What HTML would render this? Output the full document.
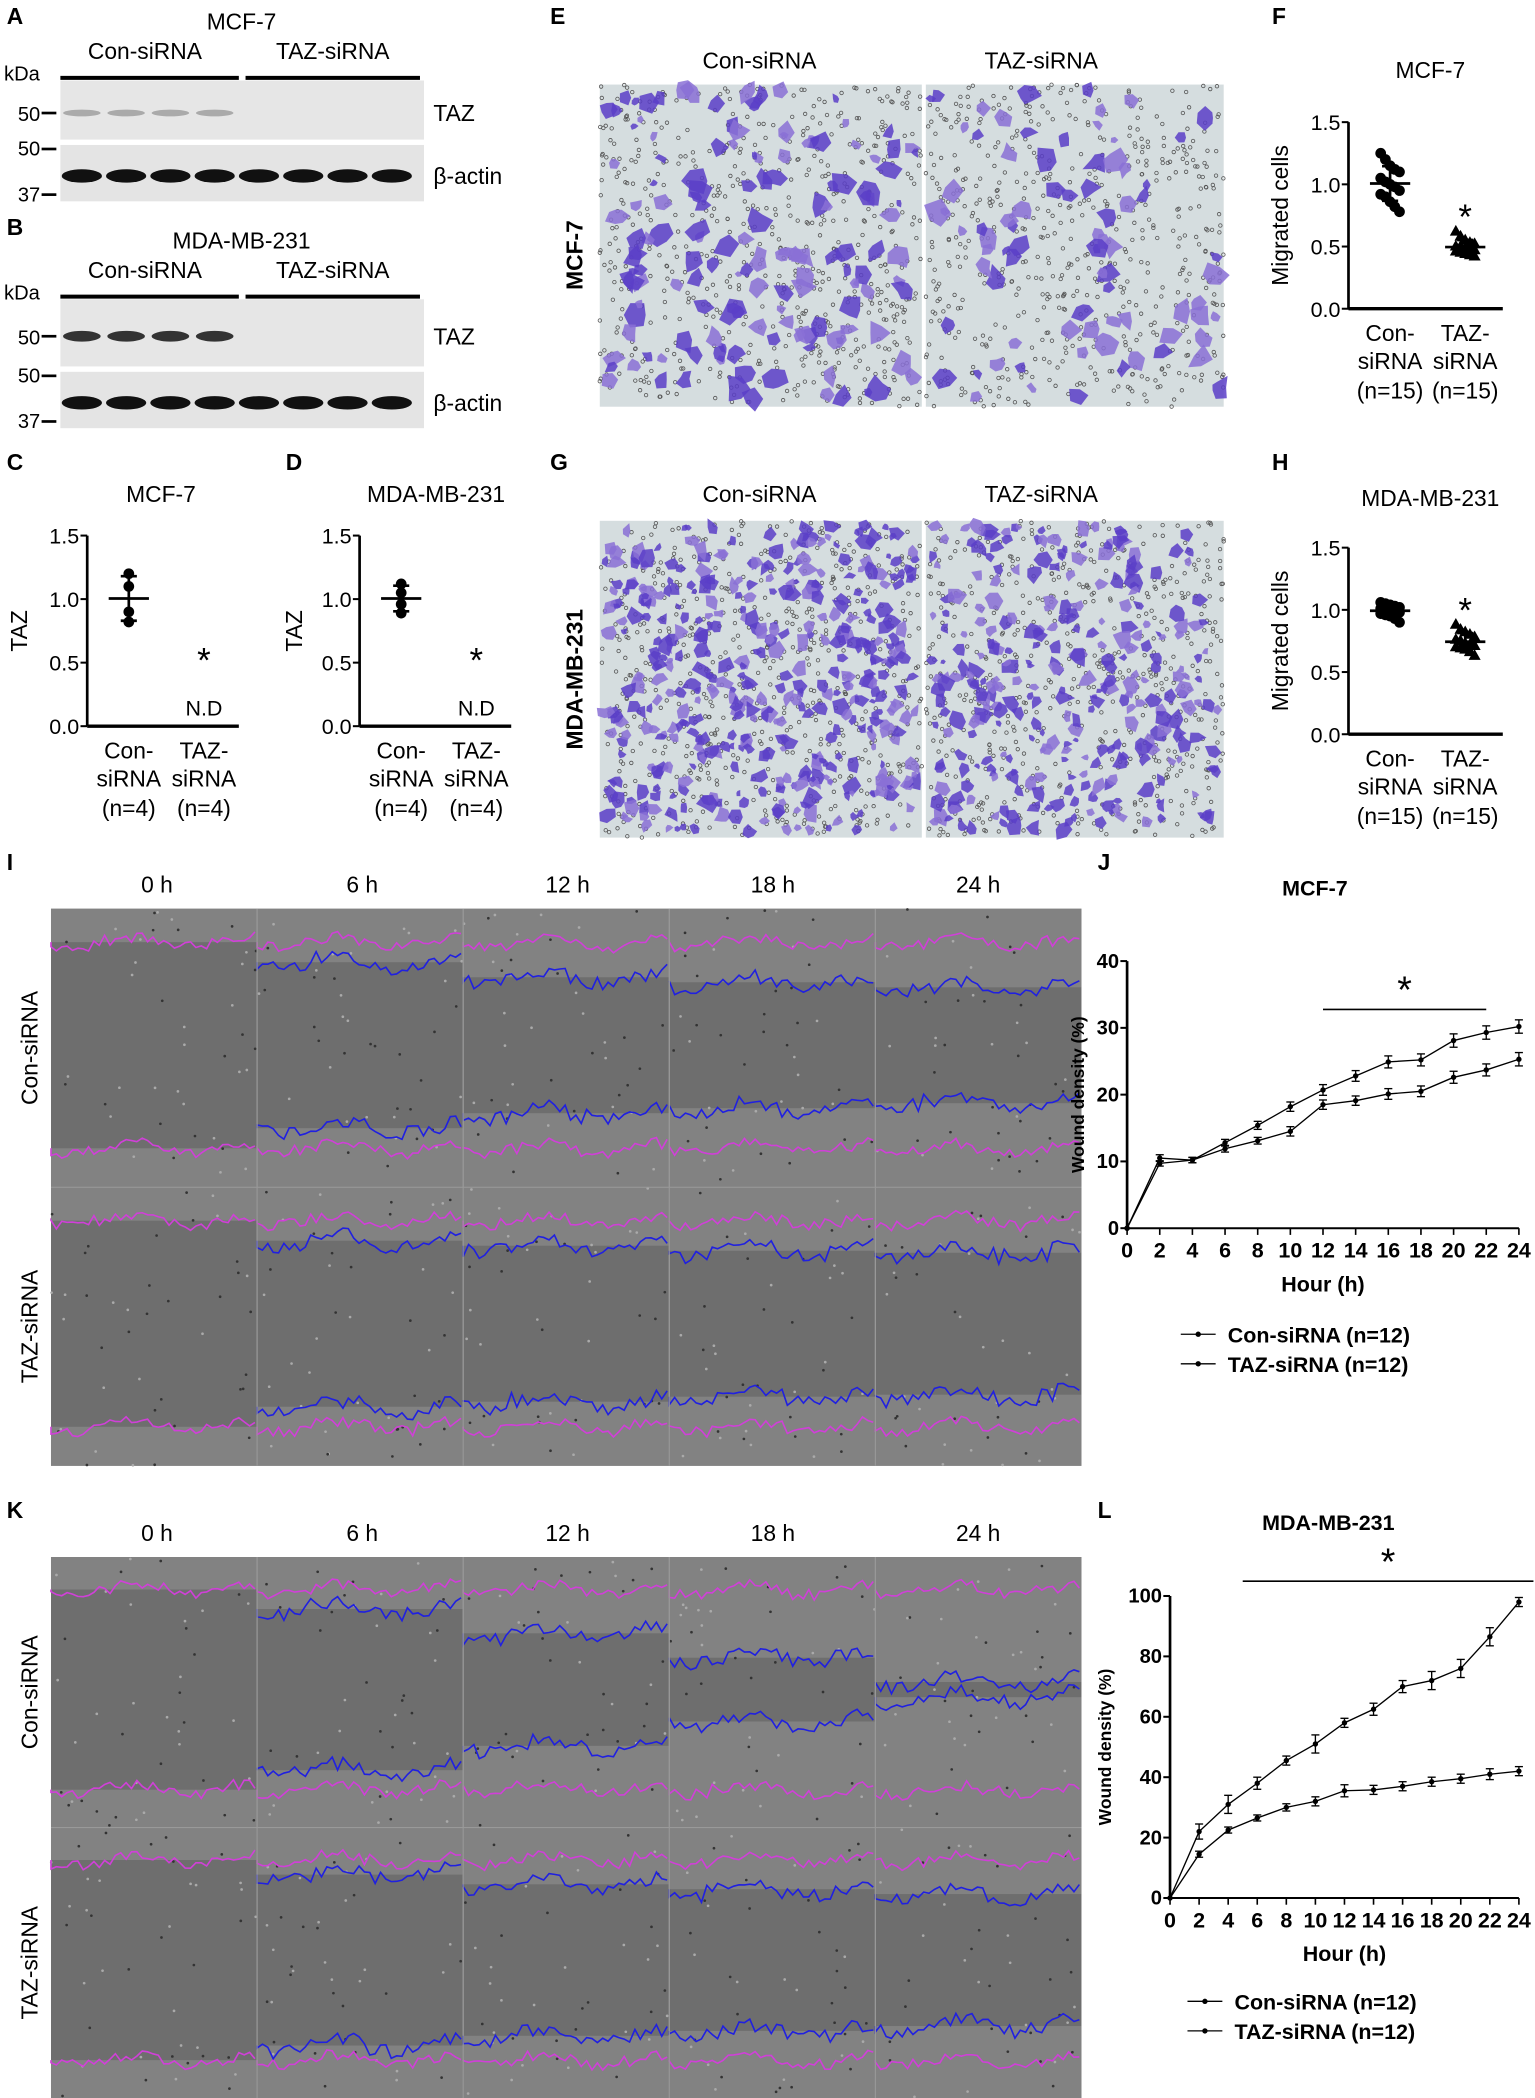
<!DOCTYPE html>
<html><head><meta charset="utf-8"><style>
html,body{margin:0;padding:0;background:#fff;}
svg{display:block;font-family:"Liberation Sans",Arial,sans-serif;}
</style></head><body>
<svg id="fig" width="1535" height="2098" viewBox="0 0 1144 1563" preserveAspectRatio="none" xmlns="http://www.w3.org/2000/svg"></svg>
<script>
// ---- chart data ----
const hours = [0,2,4,6,8,10,12,14,16,18,20,22,24];
const hourTicks = [0,2,4,6,8,10,12,14,16,18,20,22,24];
const jCon = [0,10.5,10.2,12.8,15.4,18.2,20.7,22.8,24.9,25.2,28.1,29.3,30.2];
const jConErr = [0,0.5,0.4,0.5,0.6,0.7,0.8,0.8,0.9,0.9,1.0,1.0,1.0];
const jTaz = [0,9.7,10.2,11.9,13.1,14.5,18.5,19.1,20.1,20.5,22.6,23.7,25.3];
const jTazErr = [0,0.4,0.4,0.5,0.5,0.7,0.7,0.7,0.8,0.8,0.9,0.9,1.0];
const jYTicks = [0,10,20,30,40];
const lCon = [0,22,31,38,45.5,51,58,62.5,70,72,76,86.5,98];
const lConErr = [0,2.5,3,2,1.5,3,1.5,2,2,3,3,3,1.5];
const lTaz = [0,14.5,22.5,26.5,30,32,35.5,35.8,37,38.5,39.5,41,42];
const lTazErr = [0,1,1,1,1.2,1.5,2,1.5,1.5,1.5,1.5,1.8,1.5];
const lYTicks = [0,20,40,60,80,100];
const cCon = [1.2,1.1,0.9,0.82];
const dCon = [1.12,1.05,0.96,0.89];
const fCon = [1.25,1.2,1.15,1.12,1.1,1.05,1.02,1.0,0.98,0.95,0.92,0.9,0.86,0.82,0.78];
const fTaz = [0.62,0.58,0.55,0.53,0.52,0.5,0.5,0.49,0.48,0.47,0.46,0.45,0.44,0.43,0.42];
const hCon = [1.06,1.05,1.04,1.03,1.02,1.01,1.0,1.0,0.99,0.98,0.97,0.96,0.95,0.93,0.9];
const hTaz = [0.88,0.84,0.82,0.8,0.78,0.76,0.75,0.73,0.72,0.71,0.7,0.69,0.68,0.66,0.63];
const scatterTicks = [0,0.5,1.0,1.5];

const NS="http://www.w3.org/2000/svg";
const svg=document.getElementById('fig');
function mk(tag,attrs,name,parent){
  const el=document.createElementNS(NS,tag);
  for(const k in attrs) el.setAttribute(k,attrs[k]);
  
  
  (parent||svg).appendChild(el);return el;
}
function txt(x,y,s,size,name,opt){
  opt=opt||{};
  const a={x:x,y:y,'font-size':size,'text-anchor':opt.anchor||'middle',fill:'#000'};
  if(opt.bold)a['font-weight']='bold';
  if(opt.rot!==undefined)a.transform='rotate('+opt.rot+' '+x+' '+y+')';
  const t=mk('text',a,name,opt.parent);t.textContent=s;return t;
}
let seed=7;function rnd(){seed=(seed*16807)%2147483647;return seed/2147483647;}

// ---- panel letters ----
[['A',5,18],['B',5,175],['C',5,350],['D',213,350],['E',410,18],['F',948,18],['G',410,350],['H',948,350],['I',5,648],['J',818,648],['K',5,1131],['L',818,1131]].forEach(p=>{
  txt(p[1],p[2],p[0],17,'panel-label-'+p[0].toLowerCase(),{anchor:'start',bold:true});
});

// ---- western blots ----
function blot(y0,title,tazStrength,name){
  const g=mk('g',{},name);
  txt(180,y0+12,title,17,name+'-title',{parent:g});
  txt(108,y0+34,'Con-siRNA',17,name+'-con-label',{parent:g});
  txt(248,y0+34,'TAZ-siRNA',17,name+'-taz-label',{parent:g});
  txt(3,y0+50,'kDa',15,name+'-kda',{anchor:'start',parent:g});
  mk('line',{x1:45,y1:y0+48,x2:178,y2:y0+48,stroke:'#000','stroke-width':3},name+'-con-bar',g);
  mk('line',{x1:183,y1:y0+48,x2:313,y2:y0+48,stroke:'#000','stroke-width':3},name+'-taz-bar',g);
  const b1=y0+50, h1=tazStrength>0.5?50:44, b2=b1+h1+4, h2=42;
  mk('rect',{x:45,y:b1,width:271,height:h1,fill:'#e6e6e6'},name+'-taz-membrane',g);
  mk('rect',{x:45,y:b2,width:271,height:h2,fill:'#e4e4e4'},name+'-actin-membrane',g);
  const tb=b1+h1*0.55, ab=b2+h2*0.55;
  for(let i=0;i<8;i++){
    const cx=61+i*33;
    if(i<4) mk('ellipse',{cx:cx,cy:tb,rx:14,ry:tazStrength>0.5?4:2.5,fill:tazStrength>0.5?'#333':'#aaa'},name+'-taz-band',g);
    mk('ellipse',{cx:cx,cy:ab,rx:15,ry:5,fill:'#111'},name+'-actin-band',g);
  }
  txt(30,tb+6,'50',15,name+'-marker-50',{anchor:'end',parent:g});
  txt(30,b2+8,'50',15,name+'-marker-50b',{anchor:'end',parent:g});
  txt(30,b2+h2,'37',15,name+'-marker-37',{anchor:'end',parent:g});
  [tb,b2+3,b2+h2-5].forEach(yy=>mk('line',{x1:31,y1:yy,x2:42,y2:yy,stroke:'#000','stroke-width':2},name+'-marker-tick',g));
  txt(323,tb+6,'TAZ',17,name+'-taz-name',{anchor:'start',parent:g});
  txt(323,ab+6,'β-actin',17,name+'-actin-name',{anchor:'start',parent:g});
}
blot(10,'MCF-7',0.2,'blot-mcf7');
blot(173,'MDA-MB-231',0.9,'blot-mda');

// ---- scatter plots ----
function scatter(o){
  const g=mk('g',{},o.name);
  const y=v=>o.y0-(v/1.5)*(o.y0-o.y15);
  txt(o.tx,o.ty,o.title,17,o.name+'-title',{parent:g});
  mk('line',{x1:o.ax,y1:o.y15,x2:o.ax,y2:o.y0,stroke:'#000','stroke-width':2},o.name+'-y-axis',g);
  mk('line',{x1:o.ax,y1:o.y0,x2:o.ax+o.w,y2:o.y0,stroke:'#000','stroke-width':2.5},o.name+'-x-axis',g);
  scatterTicks.forEach(t=>{
    mk('line',{x1:o.ax-5,y1:y(t),x2:o.ax,y2:y(t),stroke:'#000','stroke-width':1.5},o.name+'-y-tick',g);
    txt(o.ax-6,y(t)+6,t.toFixed(1),16,o.name+'-y-tick-label',{anchor:'end',parent:g});
  });
  txt(o.yl,(o.y0+o.y15)/2,o.ylabel,17,o.name+'-y-title',{rot:-90,parent:g});
  const c1=o.ax+31,c2=o.ax+87;
  const mean=a=>a.reduce((s,v)=>s+v,0)/a.length;
  const sd=a=>{const m=mean(a);return Math.sqrt(a.reduce((s,v)=>s+(v-m)*(v-m),0)/(a.length-1));};
  function group(arr,cx,tri){
    arr.forEach((v,i)=>{
      const dx=arr.length>4?((i%5)-2)*3.5:0;
      if(tri) mk('polygon',{points:`${cx+dx},${y(v)-5} ${cx+dx-4.5},${y(v)+3} ${cx+dx+4.5},${y(v)+3}`,fill:'#000'},o.name+'-point',g);
      else mk('circle',{cx:cx+dx,cy:y(v),r:4,fill:'#000'},o.name+'-point',g);
    });
    const m=mean(arr),s=sd(arr);
    mk('line',{x1:cx-15,y1:y(m),x2:cx+15,y2:y(m),stroke:'#000','stroke-width':2},o.name+'-mean',g);
    mk('line',{x1:cx,y1:y(m-s),x2:cx,y2:y(m+s),stroke:'#000','stroke-width':2},o.name+'-sd',g);
    mk('line',{x1:cx-6,y1:y(m-s),x2:cx+6,y2:y(m-s),stroke:'#000','stroke-width':2},o.name+'-sd-cap',g);
    mk('line',{x1:cx-6,y1:y(m+s),x2:cx+6,y2:y(m+s),stroke:'#000','stroke-width':2},o.name+'-sd-cap',g);
    return m+s;
  }
  group(o.con,c1,false);
  if(o.taz){const top=group(o.taz,c2,true);txt(c2,y(top)+o.starOff,'*',26,o.name+'-star',{parent:g});}
  else{txt(c2,o.y0-40,'*',26,o.name+'-star',{parent:g});txt(c2,o.y0-8,'N.D',16,o.name+'-nd',{parent:g});}
  const n=o.n;
  [['Con-','siRNA',n],['TAZ-','siRNA',n]].forEach((l,i)=>{
    const cx=i?c2:c1;
    txt(cx,o.y0+24,l[0],17,o.name+'-x-label',{parent:g});
    txt(cx,o.y0+45,l[1],17,o.name+'-x-label',{parent:g});
    txt(cx,o.y0+67,l[2],17,o.name+'-x-label',{parent:g});
  });
}
scatter({name:'chart-c',title:'MCF-7',tx:120,ty:374,ax:65,y0:541,y15:399,w:113,ylabel:'TAZ',yl:20,con:cCon,n:'(n=4)'});
scatter({name:'chart-d',title:'MDA-MB-231',tx:325,ty:374,ax:268,y0:541,y15:399,w:113,ylabel:'TAZ',yl:225,con:dCon,n:'(n=4)'});
scatter({name:'chart-f',title:'MCF-7',tx:1066,ty:58,ax:1005,y0:230,y15:91,w:115,ylabel:'Migrated cells',yl:960,con:fCon,taz:fTaz,n:'(n=15)',starOff:-8});
scatter({name:'chart-h',title:'MDA-MB-231',tx:1066,ty:377,ax:1005,y0:547,y15:408,w:115,ylabel:'Migrated cells',yl:960,con:hCon,taz:hTaz,n:'(n=15)',starOff:-8});

// ---- transwell images ----
function transwell(x,y,w,h,nCells,dark,name){
  const g=mk('g',{},name);
  mk('rect',{x:x,y:y,width:w,height:h,fill:'#d5dddf'},name+'-bg',g);
  for(let i=0;i<Math.floor(w*h/90);i++) mk('circle',{cx:x+rnd()*w,cy:y+rnd()*h,r:1.3,fill:'none',stroke:'#555','stroke-width':0.6},name+'-pore',g);
  for(let i=0;i<nCells;i++){
    const cx=x+4+rnd()*(w-8),cy=y+4+rnd()*(h-8),r=(dark?2.5:3)+rnd()*(dark?4:6);
    let pts='';const k=5+Math.floor(rnd()*3);
    for(let j=0;j<k;j++){const a=j/k*6.283,rr=r*(0.5+rnd()*0.9);pts+=(cx+Math.cos(a)*rr).toFixed(1)+','+(cy+Math.sin(a)*rr).toFixed(1)+' ';}
    mk('polygon',{points:pts,fill:rnd()<0.6?'#5a3ec8':'#8a70d6',opacity:0.85},name+'-cell',g);
  }
}
txt(566,51,'Con-siRNA',17,'e-con-label');txt(776,51,'TAZ-siRNA',17,'e-taz-label');
txt(434,190,'MCF-7',17,'e-row-label',{rot:-90,bold:true});
transwell(447,63,240,240,150,false,'image-e-con');transwell(690,63,222,240,80,false,'image-e-taz');
txt(566,374,'Con-siRNA',17,'g-con-label');txt(776,374,'TAZ-siRNA',17,'g-taz-label');
txt(434,506,'MDA-MB-231',17,'g-row-label',{rot:-90,bold:true});
transwell(447,388,240,236,430,true,'image-g-con');transwell(690,388,222,236,300,true,'image-g-taz');

// ---- scratch images ----
function wave(x0,w,yb,amp){let d='M'+x0+','+yb;for(let t=0;t<=w;t+=4){d+=' L'+(x0+t)+','+(yb+Math.sin(t*0.07+rnd())*amp*0.5+(rnd()-0.5)*amp).toFixed(1);}return d;}
function scratch(y,h,times,name,closeCon,closeTaz){
  const g=mk('g',{},name);
  times.forEach((t,i)=>txt(117+i*153,y-12,t,17,name+'-time-label',{parent:g}));
  const x=38,w=768;
  mk('rect',{x:x,y:y,width:w,height:h,fill:'#6e6e6e'},name+'-bg',g);
  const rh=h/2;
  [0,1].forEach(r=>{
    const ry=y+r*rh, cl=r?closeTaz:closeCon;
    for(let c=0;c<5;c++){
      const cx=x+c*153.6;
      const topB=ry+rh*0.12, botB=ry+rh*0.86;
      const adv=cl[c]*rh*0.36;
      mk('rect',{x:cx,y:ry,width:153.6,height:rh*0.12+adv,fill:'#828282'},name+'-cells-top',g);
      mk('rect',{x:cx,y:botB-adv,width:153.6,height:ry+rh-(botB-adv),fill:'#828282'},name+'-cells-bottom',g);
      for(let k=0;k<40;k++) mk('circle',{cx:cx+rnd()*153,cy:ry+rnd()*rh,r:1,fill:rnd()<0.5?'#333':'#aaa'},name+'-speck',g);
      mk('path',{d:wave(cx,153,topB,8),fill:'none',stroke:'#d040d8','stroke-width':1.2},name+'-initial-edge',g);
      mk('path',{d:wave(cx,153,botB,8),fill:'none',stroke:'#d040d8','stroke-width':1.2},name+'-initial-edge',g);
      if(c>0){
        mk('path',{d:wave(cx,153,topB+adv,10),fill:'none',stroke:'#2020e0','stroke-width':1.2},name+'-current-edge',g);
        mk('path',{d:wave(cx,153,botB-adv,10),fill:'none',stroke:'#2020e0','stroke-width':1.2},name+'-current-edge',g);
      }
      if(c>0) mk('line',{x1:cx,y1:y,x2:cx,y2:y+h,stroke:'#999','stroke-width':0.8},name+'-divider',g);
    }
  });
  mk('line',{x1:x,y1:y+rh,x2:x+w,y2:y+rh,stroke:'#999','stroke-width':0.8},name+'-row-divider',g);
  txt(28,y+rh/2,'Con-siRNA',17,name+'-con-label',{rot:-90,parent:g});
  txt(28,y+rh*1.5,'TAZ-siRNA',17,name+'-taz-label',{rot:-90,parent:g});
}
const times=['0 h','6 h','12 h','18 h','24 h'];
scratch(677,415,times,'image-i',[0,0.2,0.35,0.4,0.45],[0,0.2,0.25,0.3,0.32]);
scratch(1160,403,times,'image-k',[0,0.2,0.45,0.7,0.95],[0,0.15,0.25,0.3,0.35]);

// ---- line charts ----
function lineChart(o){
  const g=mk('g',{},o.name);
  const X=h=>o.x0+(h/24)*(o.x1-o.x0);
  const Y=v=>o.y0-(v/o.ymax)*(o.y0-o.ytop);
  txt(o.tx,o.ty,o.title,16,o.name+'-title',{bold:true,parent:g});
  mk('line',{x1:o.x0,y1:o.ytop,x2:o.x0,y2:o.y0,stroke:'#000','stroke-width':2},o.name+'-y-axis',g);
  mk('line',{x1:o.x0,y1:o.y0,x2:o.x1,y2:o.y0,stroke:'#000','stroke-width':1.5},o.name+'-x-axis',g);
  o.yt.forEach(t=>{
    mk('line',{x1:o.x0-5,y1:Y(t),x2:o.x0,y2:Y(t),stroke:'#000','stroke-width':1.5},o.name+'-y-tick',g);
    txt(o.x0-6,Y(t)+5,String(t),15,o.name+'-y-tick-label',{anchor:'end',bold:true,parent:g});
  });
  hourTicks.forEach(t=>{
    mk('line',{x1:X(t),y1:o.y0,x2:X(t),y2:o.y0+5,stroke:'#000','stroke-width':1.2},o.name+'-x-tick',g);
    txt(X(t),o.y0+22,String(t),16,o.name+'-x-tick-label',{bold:true,parent:g});
  });
  txt((o.x0+o.x1)/2,o.y0+47,'Hour (h)',16,o.name+'-x-title',{bold:true,parent:g});
  txt(o.ytx,(o.y0+o.ytop)/2,'Wound density (%)',13,o.name+'-y-title',{bold:true,rot:-90,parent:g});
  [[o.con,o.conE,'con'],[o.taz,o.tazE,'taz']].forEach(s=>{
    let d='';hours.forEach((h,i)=>{d+=(i?' L':'M')+X(h).toFixed(1)+','+Y(s[0][i]).toFixed(1);});
    mk('path',{d:d,fill:'none',stroke:'#000','stroke-width':1},o.name+'-line-'+s[2],g);
    hours.forEach((h,i)=>{
      mk('circle',{cx:X(h),cy:Y(s[0][i]),r:2,fill:'#000'},o.name+'-point-'+s[2],g);
      if(s[1][i]>0){
        mk('line',{x1:X(h),y1:Y(s[0][i]-s[1][i]),x2:X(h),y2:Y(s[0][i]+s[1][i]),stroke:'#000','stroke-width':1},o.name+'-err-'+s[2],g);
        mk('line',{x1:X(h)-3,y1:Y(s[0][i]+s[1][i]),x2:X(h)+3,y2:Y(s[0][i]+s[1][i]),stroke:'#000','stroke-width':1},o.name+'-err-cap',g);
        mk('line',{x1:X(h)-3,y1:Y(s[0][i]-s[1][i]),x2:X(h)+3,y2:Y(s[0][i]-s[1][i]),stroke:'#000','stroke-width':1},o.name+'-err-cap',g);
      }
    });
  });
  mk('line',{x1:X(o.sig[0]),y1:o.sigY,x2:X(o.sig[1]),y2:o.sigY,stroke:'#000','stroke-width':1.2},o.name+'-sig-bar',g);
  txt((X(o.sig[0])+X(o.sig[1]))/2,o.sigY-5,'*',28,o.name+'-sig-star',{parent:g});
  [['Con-siRNA (n=12)',0],['TAZ-siRNA (n=12)',1]].forEach(l=>{
    const ly=o.legY+l[1]*22;
    mk('line',{x1:o.legX,y1:ly,x2:o.legX+26,y2:ly,stroke:'#000','stroke-width':1},o.name+'-legend-line',g);
    mk('circle',{cx:o.legX+13,cy:ly,r:2,fill:'#000'},o.name+'-legend-marker',g);
    txt(o.legX+35,ly+6,l[0],16,o.name+'-legend-entry',{anchor:'start',bold:true,parent:g});
  });
}
lineChart({name:'chart-j',title:'MCF-7',tx:980,ty:667,x0:840,x1:1132,y0:915,ytop:716,ymax:40,yt:jYTicks,ytx:808,con:jCon,conE:jConErr,taz:jTaz,tazE:jTazErr,sig:[12,22],sigY:752,legX:880,legY:994});
lineChart({name:'chart-l',title:'MDA-MB-231',tx:990,ty:1140,x0:872,x1:1132,y0:1414,ytop:1189,ymax:100,yt:lYTicks,ytx:828,con:lCon,conE:lConErr,taz:lTaz,tazE:lTazErr,sig:[5,25],sigY:1178,legX:885,legY:1491});
</script>
</body></html>
